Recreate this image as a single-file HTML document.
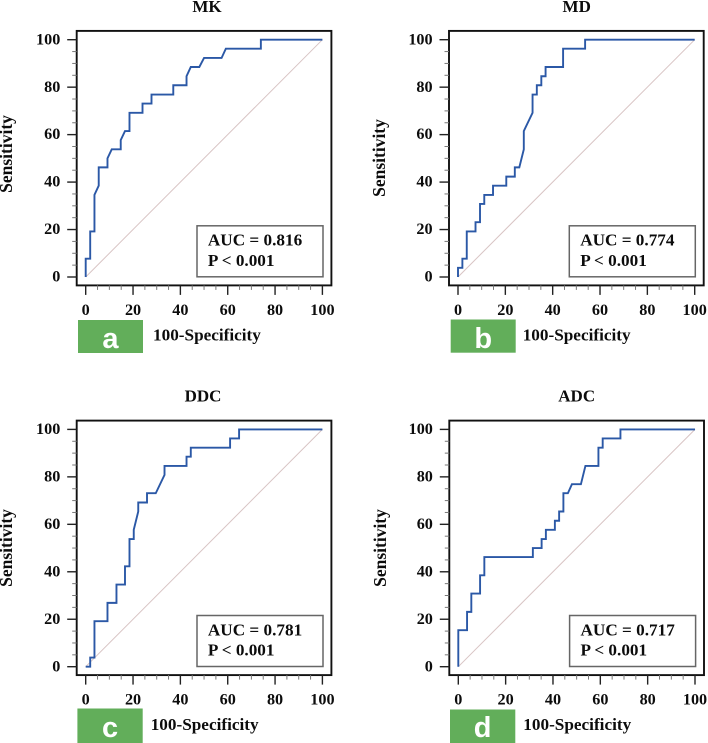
<!DOCTYPE html>
<html>
<head>
<meta charset="utf-8">
<style>
html,body{margin:0;padding:0;background:#fff;}
svg{display:block;filter:blur(0.3px);}
text{font-family:"Liberation Serif",serif;font-weight:bold;fill:#0c0c0c;}
text.badge{font-family:"Liberation Sans",sans-serif;fill:#fff;font-size:29px;}
</style>
</head>
<body>
<svg id="fig" width="708" height="743" viewBox="0 0 708 743" xmlns="http://www.w3.org/2000/svg"></svg>
<script>
const xTickLabels = [0, 20, 40, 60, 80, 100];
const yTickLabels = [0, 20, 40, 60, 80, 100];
const minorTicks = [5, 10, 15, 25, 30, 35, 45, 50, 55, 65, 70, 75, 85, 90, 95];
const diagonalValues = [0, 100];

const mkX = [0,0,1.9,1.9,3.7,3.7,5.5,5.5,9.2,9.2,11,14.8,14.8,16.6,18.5,18.5,24,24,27.8,27.8,37,37,42.6,42.6,44.4,48,50,57.4,59.2,74,74,100];
const mkY = [0,7.7,7.7,19.2,19.2,34.6,38.5,46.2,46.2,50,53.8,53.8,57.7,61.5,61.5,69.2,69.2,73.1,73.1,76.9,76.9,80.8,80.8,84.6,88.5,88.5,92.3,92.3,96.2,96.2,100,100];

const mdX = [0,0,1.85,1.85,3.7,3.7,7.4,7.4,9.3,9.3,11.1,11.1,14.8,14.8,20.4,20.4,24,24,25.9,27.8,27.8,31.5,31.5,33.3,33.3,35.2,35.2,37,37,44.4,44.4,53.7,53.7,100];
const mdY = [0,3.85,3.85,7.7,7.7,19.2,19.2,23.1,23.1,30.8,30.8,34.6,34.6,38.5,38.5,42.3,42.3,46.2,46.2,53.8,61.5,69.2,76.9,76.9,80.8,80.8,84.6,84.6,88.5,88.5,96.2,96.2,100,100];

const ddcX = [0,1.9,1.9,3.7,3.7,9.2,9.2,13,13,16.6,16.6,18.5,18.5,20.3,20.3,22.2,22.2,25.9,25.9,29.6,33.3,33.3,42.6,42.6,44.4,44.4,61,61,64.8,64.8,100];
const ddcY = [0,0,3.85,3.85,19.2,19.2,26.9,26.9,34.6,34.6,42.3,42.3,53.8,53.8,57.7,65.4,69.2,69.2,73.1,73.1,80.8,84.6,84.6,88.5,88.5,92.3,92.3,96.2,96.2,100,100];

const adcX = [0,0,3.7,3.7,5.5,5.5,9.2,9.2,11,11,31.5,31.5,35.2,35.2,37,37,40.8,40.8,42.6,42.6,44.4,44.4,46.3,48,51.8,53.7,59.2,59.2,61,61,68.5,68.5,100];
const adcY = [0,15.4,15.4,23.1,23.1,30.8,30.8,38.5,38.5,46.2,46.2,50,50,53.8,53.8,57.7,57.7,61.5,61.5,65.4,65.4,73.1,73.1,76.9,76.9,84.6,84.6,92.3,92.3,96.2,96.2,100,100];

const panelTitles = ["MK", "MD", "DDC", "ADC"];
const panelLetters = ["a", "b", "c", "d"];
const aucLabels = ["AUC = 0.816", "AUC = 0.774", "AUC = 0.781", "AUC = 0.717"];
const pLabels = ["P < 0.001", "P < 0.001", "P < 0.001", "P < 0.001"];
const seriesX = [mkX, mdX, ddcX, adcX];
const seriesY = [mkY, mdY, ddcY, adcY];

const NS = "http://www.w3.org/2000/svg";
const fig = document.getElementById("fig");

function add(parent, tag, attrs, txt) {
  const el = document.createElementNS(NS, tag);
  for (const k in attrs) el.setAttribute(k, attrs[k]);
  if (txt !== undefined) el.textContent = txt;
  parent.appendChild(el);
  return el;
}

const layouts = [
  {x0:85.7, x1:322.4, y0:277,   y1:39.7,  titleX:207,   titleY:12,    sensX:12,  sensY:154, badge:[78,320,65,33],      badgeTextY:348, labelX:153,   labelY:340.7},
  {x0:458,  x1:694.7, y0:277,   y1:39.7,  titleX:576.7, titleY:12,    sensX:385, sensY:158, badge:[450.7,319.5,65,33.2], badgeTextY:348, labelX:522.7, labelY:340.7},
  {x0:85.7, x1:322.4, y0:666.7, y1:429.4, titleX:203,   titleY:401.7, sensX:12,  sensY:548, badge:[77.4,708.5,65.3,34.5], badgeTextY:737, labelX:150.7, labelY:730},
  {x0:458.3,x1:695,   y0:666.7, y1:429.4, titleX:576.7, titleY:401.7, sensX:386, sensY:548, badge:[450,709.5,65.3,33.5], badgeTextY:737, labelX:523.3, labelY:730}
];

layouts.forEach(function (L, i) {
  const sx = function (v) { return L.x0 + (L.x1 - L.x0) * v / 100; };
  const sy = function (v) { return L.y0 + (L.y1 - L.y0) * v / 100; };
  const left = L.x0 - 9, right = L.x1 + 9, top = L.y1 - 8.8, bottom = L.y0 + 8.4;

  const g = add(fig, "g", {});
  
  

  const title = add(g, "text", {x:L.titleX, y:L.titleY, "text-anchor":"middle", "font-size":17}, panelTitles[i]);
  
  

  const frame = add(g, "rect", {x:left, y:top, width:right-left, height:bottom-top, fill:"#fff", stroke:"#111", "stroke-width":1.9});
  
  

  xTickLabels.forEach(function (v) {
    const t = add(g, "line", {x1:sx(v), x2:sx(v), y1:bottom, y2:bottom+9.5, stroke:"#222", "stroke-width":1.4});
    
    
    const l = add(g, "text", {x:sx(v), y:L.y0+38, "text-anchor":"middle", "font-size":16.2}, String(v));
    
    
  });
  yTickLabels.forEach(function (v) {
    const t = add(g, "line", {x1:left-9.5, x2:left, y1:sy(v), y2:sy(v), stroke:"#222", "stroke-width":1.4});
    
    
    const l = add(g, "text", {x:left-16.4, y:sy(v)+4.6, "text-anchor":"end", "font-size":16.2}, String(v));
    
    
  });
  minorTicks.forEach(function (v) {
    const a = add(g, "line", {x1:sx(v), x2:sx(v), y1:bottom, y2:bottom+4.5, stroke:"#777", "stroke-width":1});
    
    
    const b = add(g, "line", {x1:left-4.5, x2:left, y1:sy(v), y2:sy(v), stroke:"#777", "stroke-width":1});
    
    
  });

  const diag = add(g, "line", {x1:sx(diagonalValues[0]), y1:sy(diagonalValues[0]), x2:sx(diagonalValues[1]), y2:sy(diagonalValues[1]), stroke:"#d8c4c4", "stroke-width":1});
  
  

  const pts = seriesX[i].map(function (x, k) {
    return sx(x).toFixed(2) + "," + sy(seriesY[i][k]).toFixed(2);
  }).join(" ");
  const curve = add(g, "polyline", {points:pts, fill:"none", stroke:"#2b58a6", "stroke-width":1.9, "stroke-linejoin":"miter"});
  
  

  const box = add(g, "rect", {x:L.x1-125.4, y:L.y0-51.2, width:126, height:51, fill:"#fff", stroke:"#666", "stroke-width":1.5});
  
  
  const auc = add(g, "text", {x:L.x1-114.5, y:L.y0-31.3, "font-size":17.2}, aucLabels[i]);
  
  
  const p = add(g, "text", {x:L.x1-114.5, y:L.y0-11, "font-size":17.2}, pLabels[i]);
  
  

  const sens = add(g, "text", {x:L.sensX, y:L.sensY, "text-anchor":"middle", "font-size":17.5, transform:"rotate(-90 "+L.sensX+" "+L.sensY+")"}, "Sensitivity");
  
  

  const xl = add(g, "text", {x:L.labelX, y:L.labelY, "font-size":17.2}, "100-Specificity");
  
  

  const badge = add(g, "rect", {x:L.badge[0], y:L.badge[1], width:L.badge[2], height:L.badge[3], fill:"#62ae5a"});
  
  
  const letter = add(g, "text", {x:L.badge[0]+L.badge[2]/2, y:L.badgeTextY, "text-anchor":"middle", "class":"badge"}, panelLetters[i]);
  
  
});
</script>
</body>
</html>
